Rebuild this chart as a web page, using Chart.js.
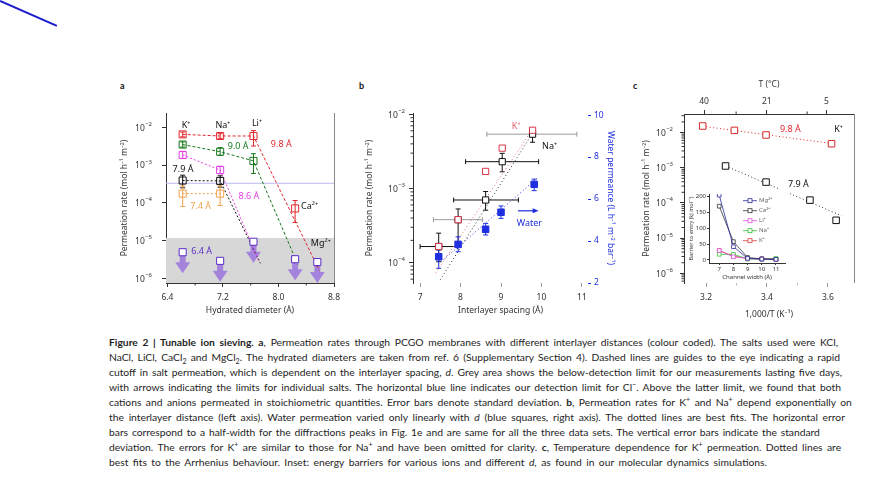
<!DOCTYPE html>
<html lang="en">
<head>
<meta charset="UTF-8">
<title>Figure 2 | Tunable ion sieving</title>
<script src="https://cdn.jsdelivr.net/npm/chart.js"></script>
<style>
  body { margin: 0; background: #fff; }
  #page { position: relative; width: 883px; height: 482px; overflow: hidden; background: #fff; }
  #page canvas { position: absolute; }
  .panel { position: absolute; font: bold 9px Lato, sans-serif; color: #111; }
  #pen { position: absolute; left: 0; top: -0.2px; width: 62px; height: 2.4px; background: #1c1ccf; transform-origin: 0 50%; transform: rotate(23.7deg); }
  #caption { position: absolute; left: 109px; top: 335px; font: 10.3px/15px Lato, sans-serif; color: #1e1e1e; }
  #caption div { white-space: nowrap; width: max-content; }
  #caption sup, #caption sub { font-size: 7px; line-height: 0; }
</style>
</head>
<body>
<div id="page">
  <div id="pen"></div>
  <div class="panel" style="left:120px;top:80px">a</div>
  <div class="panel" style="left:359px;top:80px">b</div>
  <div class="panel" style="left:633px;top:80px">c</div>
  <canvas id="chartA" width="250" height="250" style="left:100px;top:70px"></canvas>
  <canvas id="chartB" width="270" height="250" style="left:355px;top:70px"></canvas>
  <canvas id="chartC" width="250" height="260" style="left:620px;top:60px"></canvas>
  <canvas id="chartInset" width="104" height="92" style="left:686px;top:189px;background:#fff"></canvas>
  <div id="caption">
    <div><b>Figure 2 | Tunable ion sieving. a</b>, Permeation rates through PCGO membranes with different interlayer distances (colour coded). The salts used were KCl,</div>
    <div>NaCl, LiCl, CaCl<sub>2</sub> and MgCl<sub>2</sub>. The hydrated diameters are taken from ref. 6 (Supplementary Section 4). Dashed lines are guides to the eye indicating a rapid</div>
    <div>cutoff in salt permeation, which is dependent on the interlayer spacing, <i>d</i>. Grey area shows the below-detection limit for our measurements lasting five days,</div>
    <div>with arrows indicating the limits for individual salts. The horizontal blue line indicates our detection limit for Cl<sup>−</sup>. Above the latter limit, we found that both</div>
    <div>cations and anions permeated in stoichiometric quantities. Error bars denote standard deviation. <b>b</b>, Permeation rates for K<sup>+</sup> and Na<sup>+</sup> depend exponentially on</div>
    <div>the interlayer distance (left axis). Water permeation varied only linearly with <i>d</i> (blue squares, right axis). The dotted lines are best fits. The horizontal error</div>
    <div>bars correspond to a half-width for the diffractions peaks in Fig. 1e and are same for all the three data sets. The vertical error bars indicate the standard</div>
    <div>deviation. The errors for K<sup>+</sup> are similar to those for Na<sup>+</sup> and have been omitted for clarity. <b>c</b>, Temperature dependence for K<sup>+</sup> permeation. Dotted lines are</div>
    <div>best fits to the Arrhenius behaviour. Inset: energy barriers for various ions and different <i>d</i>, as found in our molecular dynamics simulations.</div>
  </div>
</div>

<script>
// ---------- panel a: permeation vs hydrated diameter ----------
const ionsA = ['K⁺', 'Na⁺', 'Li⁺', 'Ca²⁺', 'Mg²⁺'];
const diamA = [6.62, 7.16, 7.64, 8.24, 8.56];
const rate98 = [6.5e-3, 5.9e-3, 5.9e-3, 7.1e-5, null];
const rate98Lo = [5.6e-3, 5.1e-3, 3.2e-3, 3.0e-5, null];
const rate98Hi = [7.5e-3, 6.8e-3, 8.2e-3, 1.15e-4, null];
const rate90 = [3.5e-3, 2.26e-3, 1.29e-3, null, null];
const rate90Lo = [3.0e-3, 1.8e-3, 6.0e-4, null, null];
const rate90Hi = [4.1e-3, 2.9e-3, 2.0e-3, null, null];
const rate86 = [1.85e-3, 7.4e-4, null, null, null];
const rate86Lo = [1.5e-3, 5.9e-4, null, null, null];
const rate86Hi = [2.3e-3, 9.3e-4, null, null, null];
const rate79 = [3.9e-4, 3.8e-4, null, null, null];
const rate79Lo = [2.5e-4, 2.6e-4, null, null, null];
const rate79Hi = [5.4e-4, 5.2e-4, null, null, null];
const rate74 = [1.75e-4, 1.75e-4, null, null, null];
const rate74Lo = [8.0e-5, 8.5e-5, null, null, null];
const rate74Hi = [2.8e-4, 2.8e-4, null, null, null];
const limit64 = [4.9e-6, 2.9e-6, 9.3e-6, 3.2e-6, 2.7e-6];   // below detection, arrows
const clLimitA = 3.3e-4;       // blue line, Cl- detection limit
const greyLimitA = 1.17e-5;    // top of grey below-detection area
// dashed guides to the eye
const guide98X = [6.62, 7.16, 7.64, 8.59], guide98Y = [6.5e-3, 5.9e-3, 5.9e-3, 1.6e-6];
const guide90X = [6.62, 7.16, 7.64, 8.28], guide90Y = [3.5e-3, 2.26e-3, 1.29e-3, 2.3e-6];
const guide86X = [6.62, 7.16, 7.72], guide86Y = [1.85e-3, 7.4e-4, 2.8e-6];
const guide79X = [6.62, 7.16, 7.74], guide79Y = [3.9e-4, 3.8e-4, 2.5e-6];
const guide74X = [6.62, 7.16], guide74Y = [1.75e-4, 1.75e-4];
const ticksAx = [6.4, 7.2, 8.0, 8.8], minorAx = [6.8, 7.6, 8.4];

// ---------- panel b: permeation vs interlayer spacing ----------
const spacingB = [7.46, 7.94, 8.62, 9.03, 9.78];
const rateK = [1.65e-4, 3.8e-4, 1.7e-3, 3.5e-3, 6.1e-3];
const rateNa = [1.65e-4, 3.8e-4, 7.0e-4, 2.3e-3, 5.4e-3];
const rateNaLo = [1.03e-4, 1.9e-4, 5.1e-4, 1.68e-3, 4.2e-3];
const rateNaHi = [2.5e-4, 5.3e-4, 9.1e-4, 2.98e-3, 6.2e-3];
const spacingLo = [7.0, 7.33, 7.83, 8.125, 8.65];
const spacingHi = [7.92, 8.54, 9.43, 9.93, 10.875];
const spacingErrGrey = [false, true, false, false, true];
const spacingW = [7.46, 7.94, 8.62, 9.0, 9.82];
const waterB = [3.25, 3.84, 4.56, 5.37, 6.7];
const waterLo = [2.7, 3.49, 4.29, 5.08, 6.4];
const waterHi = [3.57, 4.2, 4.84, 5.67, 6.95];
const fitKX = [7.38, 9.78], fitKY = [7.2e-5, 6.3e-3];
const fitNaX = [7.5, 9.77], fitNaY = [5.9e-5, 5.5e-3];
const fitWX = [7.45, 9.9], fitWY = [2.9, 7.0];

// ---------- panel c: temperature dependence ----------
const invT98 = [3.189, 3.293, 3.397, 3.612];
const rateT98 = [1.53e-2, 1.15e-2, 8.5e-3, 4.8e-3];
const invT79 = [3.264, 3.397, 3.541, 3.627];
const rateT79 = [1.12e-3, 3.9e-4, 1.2e-4, 3.2e-5];
const fit98X = [3.189, 3.612], fit98Y = [1.5e-2, 4.9e-3];
const fit79X = [3.264, 3.645], fit79Y = [1.12e-3, 4.3e-5];
const tempC = [40, 21, 5], tempMinorC = [30, 10];

// ---------- inset: energy barriers ----------
const widthIn = [7, 8, 9, 10, 11];
const barrierMg = [205, 42, 5, 3, 2];
const barrierCa = [170, 58, 8, 3, 2];
const barrierLi = [30, 10, 5, 3, 2];
const barrierNa = [18, 18, 3, 3, 5];
const barrierK = [30, 12, 5, 4, 2];

// ---------- styling ----------
const ink = '#333';
const red = '#e3262c', green = '#16781c', magenta = '#e43ee4', black = '#111', orange = '#f0a24c';
const purple = '#5b2dc4', arrowPurple = '#a383dc', blue = '#1f2fe0', greyErr = '#9a9a9a';
const chartFont = '"Noto Sans", "Open Sans", sans-serif';

Chart.defaults.font.family = chartFont;
Chart.defaults.font.size = 8.5;
Chart.defaults.color = ink;
Chart.defaults.plugins.legend.display = false;
Chart.defaults.plugins.tooltip.enabled = false;

const xy = (xs, ys) => xs.map((x, i) => ({ x, y: ys[i] }));

function logMinors(lo, hi) {
  const out = [];
  for (let e = Math.floor(lo); e <= Math.ceil(hi); e++)
    for (let m = 2; m <= 9; m++) {
      const v = m * Math.pow(10, e);
      if (Math.log10(v) > lo && Math.log10(v) < hi) out.push(v);
    }
  return out;
}

function pointSet(label, xs, ys, color, extra) {
  return Object.assign({
    label, data: xy(xs, ys), showLine: false, borderColor: color,
    backgroundColor: 'rgba(255,255,255,0)', pointStyle: 'rect',
    pointRadius: 5, pointBorderWidth: 1, order: 1
  }, extra || {});
}
function guideSet(xs, ys, color, dash, extra) {
  return Object.assign({
    data: xy(xs, ys), borderColor: color, borderWidth: 1, borderDash: dash,
    pointRadius: 0, fill: false, order: 5
  }, extra || {});
}

// log axis; the "10^n" labels are drawn by powerLabels so the exponent can be raised
function logAxis(o) {
  return {
    type: 'logarithmic', position: 'left', bounds: 'data',
    min: Math.pow(10, o.min), max: Math.pow(10, o.max),
    afterBuildTicks: s => { s.ticks = o.decades.map(e => ({ value: Math.pow(10, e) })); },
    afterFit: s => { s.width = o.width; },
    ticks: { callback: () => '', autoSkip: false, padding: o.pad, color: ink },
    grid: { drawOnChartArea: false, tickLength: 4, color: ink },
    border: { color: ink },
    title: { display: true, text: 'Permeation rate (mol h⁻¹ m⁻²)', color: ink, padding: { top: o.titlePad, bottom: 0 } }
  };
}
function linAxis(o) {
  return {
    type: 'linear', position: o.position || 'bottom', bounds: 'data', min: o.min, max: o.max,
    afterBuildTicks: s => { s.ticks = o.ticks.map(v => ({ value: v })); },
    afterFit: s => { if (o.height) s.height = o.height; if (o.width) s.width = o.width; },
    ticks: Object.assign({ autoSkip: false, maxRotation: 0, padding: 5, color: o.color || ink }, o.tickOpts || {}),
    grid: { drawOnChartArea: false, tickLength: o.tickLength || 4, color: o.tickColor || ink },
    border: { display: o.border !== false, color: ink },
    title: { display: !!o.title, text: o.title, color: o.color || ink, padding: o.titlePad, font: o.titleFont }
  };
}

const powerLabels = {
  id: 'powerLabels',
  afterDraw(chart) {
    const s = chart.scales.y, ctx = chart.ctx;
    const xr = chart.chartArea.left - 4 - s.options.ticks.padding;
    ctx.save();
    ctx.fillStyle = ink;
    ctx.textAlign = 'right';
    ctx.textBaseline = 'middle';
    s.ticks.forEach(t => {
      const py = s.getPixelForValue(t.value);
      const exp = String(Math.round(Math.log10(t.value))).replace('-', '−');
      ctx.font = '6px ' + chartFont;
      const ew = ctx.measureText(exp).width;
      ctx.fillText(exp, xr, py - 3.2);
      ctx.font = '8.5px ' + chartFont;
      ctx.fillText('10', xr - ew - 0.3, py + 0.8);
    });
    ctx.restore();
  }
};

// error bars drawn from the dataset's own Lo/Hi arrays
function errorBarsPlugin(hook) {
  return {
    id: 'errorBars',
    [hook](chart) {
      const ctx = chart.ctx;
      chart.data.datasets.forEach((ds, i) => {
        if (!ds.yLo && !ds.xLo) return;
        const meta = chart.getDatasetMeta(i);
        const xs = chart.scales[meta.xAxisID], ys = chart.scales[meta.yAxisID];
        const cap = ds.cap || 2.5;
        ctx.save();
        ctx.lineWidth = 1;
        ds.data.forEach((p, j) => {
          if (p.y == null) return;
          const px = xs.getPixelForValue(p.x), py = ys.getPixelForValue(p.y);
          if (ds.xLo && ds.xLo[j] != null) {
            const a = xs.getPixelForValue(ds.xLo[j]), b = xs.getPixelForValue(ds.xHi[j]);
            ctx.strokeStyle = ds.xGrey && ds.xGrey[j] ? greyErr : (ds.errColor || ds.borderColor);
            ctx.beginPath();
            ctx.moveTo(a, py); ctx.lineTo(b, py);
            ctx.moveTo(a, py - cap); ctx.lineTo(a, py + cap);
            ctx.moveTo(b, py - cap); ctx.lineTo(b, py + cap);
            ctx.stroke();
          }
          if (ds.yLo && ds.yLo[j] != null) {
            const a = ys.getPixelForValue(ds.yLo[j]), b = ys.getPixelForValue(ds.yHi[j]);
            ctx.strokeStyle = ds.errColor || ds.borderColor;
            ctx.beginPath();
            ctx.moveTo(px, a); ctx.lineTo(px, b);
            ctx.moveTo(px - cap, a); ctx.lineTo(px + cap, a);
            ctx.moveTo(px - cap, b); ctx.lineTo(px + cap, b);
            ctx.stroke();
          }
        });
        ctx.restore();
      });
    }
  };
}

// text labels and small arrows placed in data units
function notesPlugin(items) {
  return {
    id: 'notes',
    afterDatasetsDraw(chart) {
      const ctx = chart.ctx;
      items.forEach(n => {
        const xs = chart.scales[n.xAxis || 'x'], ys = chart.scales[n.yAxis || 'y'];
        const py = ys.getPixelForValue(n.y);
        ctx.save();
        ctx.fillStyle = ctx.strokeStyle = n.color;
        if (n.arrowTo != null) {
          const a = xs.getPixelForValue(n.arrowFrom), b = xs.getPixelForValue(n.arrowTo);
          ctx.lineWidth = 1.2;
          ctx.beginPath(); ctx.moveTo(a, py); ctx.lineTo(b - 4, py); ctx.stroke();
          ctx.beginPath(); ctx.moveTo(b, py); ctx.lineTo(b - 6, py - 2.5); ctx.lineTo(b - 6, py + 2.5); ctx.closePath(); ctx.fill();
        } else {
          ctx.font = (n.size || 9) + 'px ' + chartFont;
          ctx.textAlign = n.align || 'center';
          ctx.textBaseline = 'middle';
          ctx.fillText(n.text, xs.getPixelForValue(n.x), py);
        }
        ctx.restore();
      });
    }
  };
}

// shorter minor tick marks
function minorTicksPlugin(list) {
  return {
    id: 'minorTicks',
    afterDraw(chart) {
      const { ctx, chartArea } = chart;
      ctx.save();
      list.forEach(m => {
        const s = chart.scales[m.axis];
        ctx.strokeStyle = m.color || ink;
        ctx.lineWidth = 1;
        ctx.beginPath();
        m.values.forEach(v => {
          const p = s.getPixelForValue(v);
          if (m.side === 'left') { ctx.moveTo(chartArea.left, p); ctx.lineTo(chartArea.left - m.len, p); }
          if (m.side === 'bottom') { ctx.moveTo(p, chartArea.bottom); ctx.lineTo(p, chartArea.bottom + m.len); }
          if (m.side === 'top') { ctx.moveTo(p, chartArea.top); ctx.lineTo(p, chartArea.top - m.len); }
        });
        ctx.stroke();
      });
      ctx.restore();
    }
  };
}

const frameRight = {
  id: 'frameRight',
  afterDraw(chart) {
    const { ctx, chartArea } = chart;
    ctx.save();
    ctx.strokeStyle = '#888';
    ctx.lineWidth = 1;
    ctx.beginPath();
    ctx.moveTo(chartArea.right + 0.5, chartArea.top);
    ctx.lineTo(chartArea.right + 0.5, chartArea.bottom);
    ctx.stroke();
    ctx.restore();
  }
};

// grey below-detection area, Cl- line and limit arrows of panel a
const panelABack = {
  id: 'panelABack',
  beforeDatasetsDraw(chart) {
    const { ctx, chartArea, scales: { x, y } } = chart;
    ctx.save();
    const gTop = y.getPixelForValue(greyLimitA);
    ctx.fillStyle = '#d7d7d7';
    ctx.fillRect(chartArea.left, gTop, chartArea.right - chartArea.left, chartArea.bottom - gTop);
    const cl = y.getPixelForValue(clLimitA);
    ctx.strokeStyle = '#b9b9ee';
    ctx.lineWidth = 1.2;
    ctx.beginPath(); ctx.moveTo(chartArea.left, cl); ctx.lineTo(chartArea.right, cl); ctx.stroke();
    ctx.fillStyle = arrowPurple;
    diamA.forEach((d, i) => {
      const px = x.getPixelForValue(d), py = y.getPixelForValue(limit64[i]);
      ctx.fillRect(px - 3, py, 6, 11);
      ctx.beginPath();
      ctx.moveTo(px - 7.5, py + 10); ctx.lineTo(px + 7.5, py + 10); ctx.lineTo(px, py + 21);
      ctx.closePath(); ctx.fill();
    });
    ctx.restore();
  }
};

const notesA = [
  { text: ionsA[0], x: 6.668, y: 1.15e-2, color: black },
  { text: ionsA[1], x: 7.2, y: 1.15e-2, color: black },
  { text: ionsA[2], x: 7.69, y: 1.3e-2, color: black },
  { text: ionsA[3], x: 8.325, y: 8.2e-5, color: black, align: 'left' },
  { text: ionsA[4], x: 8.61, y: 8.5e-6, color: black },
  { text: '9.8 Å', x: 8.04, y: 3.55e-3, color: red },
  { text: '9.0 Å', x: 7.42, y: 3.2e-3, color: green },
  { text: '7.9 Å', x: 6.625, y: 7.7e-4, color: black },
  { text: '8.6 Å', x: 7.575, y: 1.5e-4, color: magenta },
  { text: '7.4 Å', x: 6.88, y: 7.9e-5, color: orange },
  { text: '6.4 Å', x: 6.894, y: 5.1e-6, color: purple }
];

new Chart(document.getElementById('chartA'), {
  type: 'line',
  data: {
    datasets: [
      guideSet(guide98X, guide98Y, red, [3, 2]),
      guideSet(guide90X, guide90Y, green, [3, 2]),
      guideSet(guide86X, guide86Y, magenta, [2, 2]),
      guideSet(guide79X, guide79Y, black, [2, 2]),
      guideSet(guide74X, guide74Y, orange, [2, 2]),
      pointSet('9.8 Å', diamA, rate98, red, { yLo: rate98Lo, yHi: rate98Hi }),
      pointSet('9.0 Å', diamA, rate90, green, { yLo: rate90Lo, yHi: rate90Hi }),
      pointSet('8.6 Å', diamA, rate86, magenta, { yLo: rate86Lo, yHi: rate86Hi }),
      pointSet('7.9 Å', diamA, rate79, black, { yLo: rate79Lo, yHi: rate79Hi }),
      pointSet('7.4 Å', diamA, rate74, orange, { yLo: rate74Lo, yHi: rate74Hi }),
      pointSet('6.4 Å', diamA, limit64, purple, { backgroundColor: '#fff', order: 0 })
    ]
  },
  options: {
    responsive: false, animation: false,
    layout: { padding: { left: 0, right: 16, top: 43, bottom: 0 } },
    scales: {
      x: linAxis({ min: 6.38, max: 8.8, ticks: ticksAx, height: 37, title: 'Hydrated diameter (Å)',
        titlePad: { top: 0, bottom: 4.6 }, tickOpts: { callback: v => v.toFixed(1) } }),
      y: logAxis({ min: -6.125, max: -1.62, decades: [-6, -5, -4, -3, -2], width: 66, pad: 10, titlePad: 19.6 })
    }
  },
  plugins: [panelABack, errorBarsPlugin('afterDatasetsDraw'), notesPlugin(notesA), frameRight, powerLabels,
    minorTicksPlugin([{ axis: 'x', side: 'bottom', len: 2.5, values: minorAx }])]
});

// ---------- panel b chart ----------
const notesB = [
  { text: 'K⁺', x: 9.375, y: 6.8e-3, color: '#e06070' },
  { text: 'Na⁺', x: 10.2, y: 3.66e-3, color: black },
  { text: 'Water', x: 9.7, y: 4.84, yAxis: 'y1', color: blue },
  { arrowFrom: 9.42, arrowTo: 9.93, y: 5.44, yAxis: 'y1', color: blue }
];

new Chart(document.getElementById('chartB'), {
  type: 'line',
  data: {
    datasets: [
      guideSet(fitKX, fitKY, '#e0707a', [1, 2.5]),
      guideSet(fitNaX, fitNaY, '#333', [1, 2.5]),
      guideSet(fitWX, fitWY, '#3a3ad8', [1, 2.5], { yAxisID: 'y1' }),
      pointSet('Na⁺', spacingB, rateNa, black, { backgroundColor: '#fff', pointRadius: 4.4, yLo: rateNaLo, yHi: rateNaHi,
        xLo: spacingLo, xHi: spacingHi, xGrey: spacingErrGrey, order: 2 }),
      pointSet('K⁺', spacingB, rateK, '#d8344a', { backgroundColor: '#fff', pointRadius: 4.4, order: 1 }),
      pointSet('Water', spacingW, waterB, blue, { backgroundColor: blue, pointRadius: 4.6, yAxisID: 'y1',
        yLo: waterLo, yHi: waterHi, order: 1 })
    ]
  },
  options: {
    responsive: false, animation: false,
    layout: { padding: { left: 0, right: 0, top: 43, bottom: 0 } },
    scales: {
      x: linAxis({ min: 6.825, max: 11.15, ticks: [7, 8, 9, 10, 11], height: 37, border: false, tickColor: '#999',
        title: 'Interlayer spacing (Å)', titlePad: { top: 0, bottom: 4.6 } }),
      y: logAxis({ min: -4.274, max: -1.982, decades: [-4, -3, -2], width: 58, pad: 4, titlePad: 9.6 }),
      y1: linAxis({ position: 'right', min: 2, max: 10.1, ticks: [2, 4, 6, 8, 10], width: 37, border: false,
        color: blue, tickColor: blue, tickLength: 3, tickOpts: { padding: 3 },
        title: 'Water permeance (L h⁻¹ m⁻² bar⁻¹)', titlePad: { top: 9.6, bottom: 0 } })
    }
  },
  plugins: [errorBarsPlugin('beforeDatasetsDraw'), notesPlugin(notesB), powerLabels,
    minorTicksPlugin([{ axis: 'y', side: 'left', len: 2.5, values: logMinors(-4.274, -1.982) }])]
});

// ---------- panel c chart ----------
const notesC = [
  { text: '9.8 Å', x: 3.4765, y: 1.23e-2, color: red },
  { text: 'K⁺', x: 3.6346, y: 1.23e-2, color: black },
  { text: '7.9 Å', x: 3.503, y: 3.4e-4, color: black }
];
const kelvin = t => 1000 / (t + 273.15);

new Chart(document.getElementById('chartC'), {
  type: 'line',
  data: {
    datasets: [
      guideSet(fit98X, fit98Y, red, [1, 2.5]),
      guideSet(fit79X, fit79Y, '#333', [1, 2.5]),
      pointSet('9.8 Å', invT98, rateT98, '#d42a2a', { backgroundColor: '#fff', pointRadius: 4.6 }),
      pointSet('7.9 Å', invT79, rateT79, black, { backgroundColor: '#fff', pointRadius: 4.6 })
    ]
  },
  options: {
    responsive: false, animation: false,
    layout: { padding: { left: 0, right: 16, top: 0, bottom: 0 } },
    scales: {
      x: linAxis({ min: 3.1276, max: 3.6857, ticks: [3.2, 3.4, 3.6], height: 37, border: false, tickColor: '#999',
        title: '1,000/T (K⁻¹)', titlePad: { top: 0, bottom: 0 }, tickOpts: { callback: v => v.toFixed(1) } }),
      x2: linAxis({ position: 'top', min: 3.1276, max: 3.6857, ticks: tempC.map(kelvin), height: 54,
        title: 'T (°C)', titlePad: { top: 19.6, bottom: 0 }, tickOpts: { padding: 3, callback: (v, i) => String(tempC[i]) } }),
      y: logAxis({ min: -6.276, max: -1.474, decades: [-6, -5, -4, -3, -2], width: 64, pad: 7, titlePad: 21.3 })
    }
  },
  plugins: [notesPlugin(notesC), frameRight, powerLabels,
    minorTicksPlugin([
      { axis: 'y', side: 'left', len: 2.5, values: logMinors(-6.276, -1.474) },
      { axis: 'x2', side: 'top', len: 2.5, values: tempMinorC.map(kelvin) },
      { axis: 'x', side: 'bottom', len: 2.5, values: [3.3, 3.5], color: '#bbb' }
    ])]
});

// ---------- inset chart ----------
const insetLegend = {
  id: 'insetLegend',
  afterDatasetsDraw(chart) {
    const { ctx, chartArea } = chart;
    ctx.save();
    chart.data.datasets.forEach((ds, i) => {
      const y = chartArea.top + 6.7 + i * 10, x0 = chartArea.left + 34;
      ctx.strokeStyle = ds.borderColor;
      ctx.lineWidth = 0.8;
      ctx.beginPath(); ctx.moveTo(x0, y); ctx.lineTo(x0 + 14, y); ctx.stroke();
      ctx.fillStyle = '#fff';
      ctx.fillRect(x0 + 5, y - 2, 4, 4);
      ctx.strokeRect(x0 + 5, y - 2, 4, 4);
      ctx.fillStyle = '#666';
      ctx.font = '6px ' + chartFont;
      ctx.textAlign = 'left';
      ctx.textBaseline = 'middle';
      ctx.fillText(ds.label, x0 + 16, y);
    });
    ctx.restore();
  }
};
const insetLine = (label, ys, color) => ({
  label, data: xy(widthIn, ys), borderColor: color, backgroundColor: '#fff', borderWidth: 0.8,
  pointStyle: 'rect', pointRadius: 2.6, pointBorderWidth: 0.8, fill: false
});

new Chart(document.getElementById('chartInset'), {
  type: 'line',
  data: {
    datasets: [
      insetLine('Mg²⁺', barrierMg, '#2b2b9a'),
      insetLine('Ca²⁺', barrierCa, '#333'),
      insetLine('Li⁺', barrierLi, '#e050e0'),
      insetLine('Na⁺', barrierNa, '#33c033'),
      insetLine('K⁺', barrierK, '#e03a3a')
    ]
  },
  options: {
    responsive: false, animation: false,
    layout: { padding: { left: 0, right: 4, top: 5, bottom: 0 } },
    scales: {
      x: linAxis({ min: 6.28, max: 11.65, ticks: widthIn, height: 18, tickLength: 2,
        title: 'Channel width (Å)', titlePad: { top: 0, bottom: 0.5 }, titleFont: { size: 6 },
        tickOpts: { padding: 1, font: { size: 6 } } }),
      y: linAxis({ position: 'left', min: -9.5, max: 208.5, ticks: [0, 50, 100, 150, 200], width: 23, tickLength: 2,
        title: 'Barrier to entry (kJ mol⁻¹)', titlePad: { top: 2.1, bottom: 0 }, titleFont: { size: 5.5 },
        tickOpts: { padding: 1, font: { size: 6 } } })
    }
  },
  plugins: [insetLegend]
});

// ---------- caption: fit each line to the printed right edge ----------
const captionLeft = 109;
const lineEnds = [838, 840, 842, 841, 852, 845, 820, 841, 767];
document.querySelectorAll('#caption div').forEach((el, i) => {
  const w = el.getBoundingClientRect().width;
  const spaces = (el.textContent.match(/ /g) || []).length;
  const gap = (lineEnds[i] - captionLeft - w) / spaces;
  el.style.wordSpacing = Math.max(-2, Math.min(3, gap)).toFixed(2) + 'px';
});
</script>
</body>
</html>
